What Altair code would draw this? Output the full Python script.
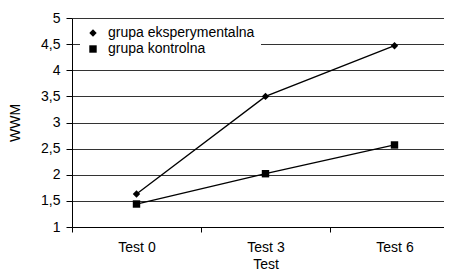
import altair as alt
import pandas as pd

tests = ["Test 0", "Test 3", "Test 6"]
groups = ["grupa eksperymentalna", "grupa kontrolna"]
experimental = [1.63, 3.5, 4.47]
control = [1.44, 2.02, 2.57]

rows = []
for t, v in zip(tests, experimental):
    rows.append({"Test": t, "grupa": groups[0], "WWM": v})
for t, v in zip(tests, control):
    rows.append({"Test": t, "grupa": groups[1], "WWM": v})
df = pd.DataFrame(rows)

font = "Liberation Sans"

x = alt.X("Test:N", sort=tests, title="Test",
          scale=alt.Scale(paddingInner=0, paddingOuter=0, range=[0, 387]),
          axis=alt.Axis(labelAngle=0, tickBand="extent", grid=False,
                        domainColor="black", tickColor="black", tickSize=5,
                        labelPadding=8, titlePadding=3))
y = alt.Y("WWM:Q", title="WWM",
          scale=alt.Scale(domain=[1, 5], nice=False, zero=False),
          axis=alt.Axis(values=[1, 1.5, 2, 2.5, 3, 3.5, 4, 4.5, 5],
                        labelExpr="replace(format(datum.value, '.1~f'), '.', ',')",
                        gridColor="#333", gridWidth=1, domainColor="black",
                        tickColor="black", tickSize=6, labelPadding=6,
                        titlePadding=18))

base = alt.Chart(df)
lines = base.mark_line(color="black", strokeWidth=1.3).encode(
    x=x, y=y, detail="grupa:N")
points = base.mark_point(filled=True, opacity=1, color="black", size=55).encode(
    x=x, y=y,
    shape=alt.Shape("grupa:N", sort=groups,
                    scale=alt.Scale(domain=groups, range=["diamond", "square"]),
                    legend=alt.Legend(title=None, orient="none",
                                      legendX=8, legendY=2,
                                      fillColor="white", padding=6,
                                      labelFontSize=14, labelFont=font,
                                      symbolSize=55, symbolFillColor="black",
                                      symbolStrokeColor="black",
                                      rowPadding=2, labelOffset=8)))

chart = (lines + points).properties(
    width=372, height=209,
    padding={"left": 64, "top": 10, "right": 0, "bottom": 43},
    autosize=alt.AutoSizeParams(type="none"),
).configure_view(stroke=None).configure_axis(
    labelFont=font, titleFont=font, labelFontSize=14, titleFontSize=14,
    titleFontWeight="normal", labelColor="black", titleColor="black"
)

chart.save("out.html", embed_options={"renderer": "svg", "actions": False})
